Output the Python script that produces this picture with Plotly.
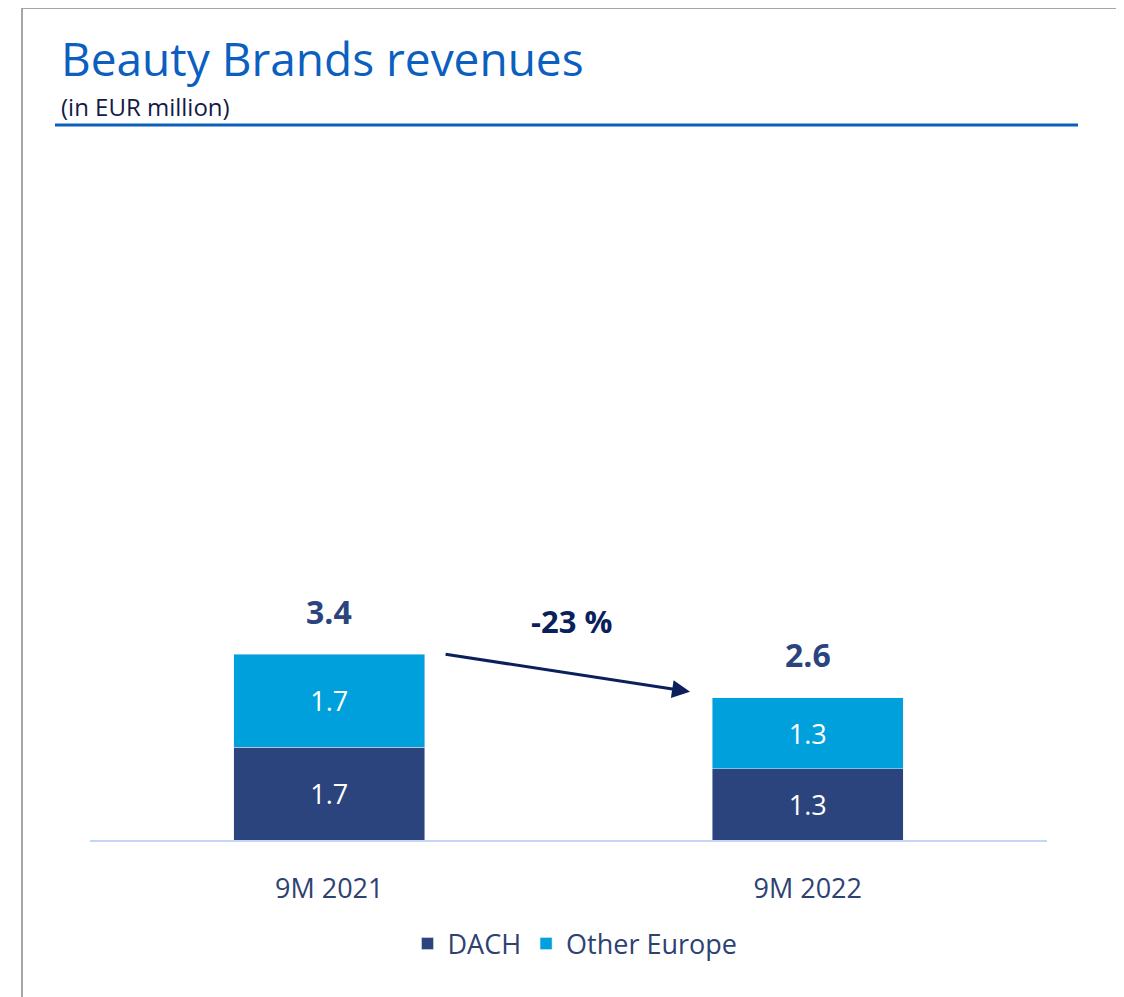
import plotly.graph_objects as go

# ---- data ----
categories = ["9M 2021", "9M 2022"]
dach = [1.7, 1.3]
other_europe = [1.7, 1.3]
totals = [3.4, 2.6]
change_label = "-23 %"

# ---- geometry helpers (page pixel -> paper); the page body has an 8px margin ----
OFF = 8
W, H = 1116, 989
L, R, T, B = 82, 77, 152, 157
PW, PH = W - L - R, H - T - B


def pxx(x):
    return (x - OFF - L) / PW


def pxy(y):
    return (H - B - (y - OFF)) / PH


DACH_C = "#2B447E"
OE_C = "#00A0DC"
TEXT_C = "#2E4272"
FONT = "Open Sans"

fig = go.Figure()
fig.add_trace(go.Bar(
    x=categories, y=dach, name="DACH", marker_color=DACH_C,
    text=[f"{v:.1f}" for v in dach], textposition="inside",
    insidetextanchor="middle", textangle=0,
    textfont=dict(color="white", size=27, family=FONT),
    hoverinfo="skip",
))
fig.add_trace(go.Bar(
    x=categories, y=other_europe, name="Other Europe", marker_color=OE_C,
    text=[f"{v:.1f}" for v in other_europe], textposition="inside",
    insidetextanchor="middle", textangle=0,
    textfont=dict(color="white", size=27, family=FONT),
    hoverinfo="skip",
))

ymax = PH / 54.7

fig.update_layout(
    width=W, height=H,
    margin=dict(l=L, r=R, t=T, b=B, autoexpand=False),
    barmode="stack", bargap=0.6,
    paper_bgcolor="white", plot_bgcolor="white",
    font=dict(family=FONT, color=TEXT_C),
    showlegend=True,
    legend=dict(
        orientation="h", x=pxx(575), xanchor="center", y=pxy(944), yanchor="middle",
        font=dict(size=27, color=TEXT_C, family=FONT), traceorder="normal",
        itemwidth=30,
    ),
    xaxis=dict(
        showgrid=False, zeroline=False, showline=True, linecolor="#C5D5F5", linewidth=2,
        ticks="", tickfont=dict(size=27, color=TEXT_C, family=FONT),
        ticklabelstandoff=24, fixedrange=True,
    ),
    yaxis=dict(
        range=[0, ymax], visible=False, showgrid=False, zeroline=False, fixedrange=True,
    ),
)

annotations = []
# totals above bars
for cat, tot in zip(categories, totals):
    annotations.append(dict(
        x=cat, y=tot, xref="x", yref="y", text=f"<b>{tot:.1f}</b>",
        showarrow=False, yanchor="middle", yshift=43,
        font=dict(size=32, color=DACH_C, family=FONT),
    ))
# change arrow
annotations.append(dict(
    x=0.754, y=2.71, xref="x", yref="y",
    ax=0.24, ay=totals[0], axref="x", ayref="y",
    showarrow=True, arrowhead=2, arrowsize=1.2, arrowwidth=3, arrowcolor="#0B1F5C",
    text="",
))
annotations.append(dict(
    x=0.507, y=4.0, xref="x", yref="y", text=f"<b>{change_label}</b>",
    showarrow=False, font=dict(size=31, color="#0B1F5C", family=FONT),
))
# title & subtitle
annotations.append(dict(
    x=pxx(59), y=pxy(58), xref="paper", yref="paper", xanchor="left", yanchor="middle",
    text="Beauty Brands revenues", showarrow=False,
    font=dict(size=46, color="#0B5FBF", family=FONT),
))
annotations.append(dict(
    x=pxx(59), y=pxy(106), xref="paper", yref="paper", xanchor="left", yanchor="middle",
    text="(in EUR million)", showarrow=False,
    font=dict(size=24, color="#141A46", family=FONT),
))
fig.update_layout(annotations=annotations)

shapes = [
    # grey frame (open at bottom)
    dict(type="path", xref="paper", yref="paper",
         path=f"M {pxx(22)},{pxy(1005)} L {pxx(22)},{pxy(8)} L {pxx(1119)},{pxy(8)} L {pxx(1119)},{pxy(1005)}",
         line=dict(color="#A6A6A6", width=2)),
    # blue rule under the title
    dict(type="line", xref="paper", yref="paper",
         x0=pxx(55), x1=pxx(1078), y0=pxy(125), y1=pxy(125),
         line=dict(color="#0B5FBF", width=3)),
]
fig.update_layout(shapes=shapes)

fig.write_html("out.html")
